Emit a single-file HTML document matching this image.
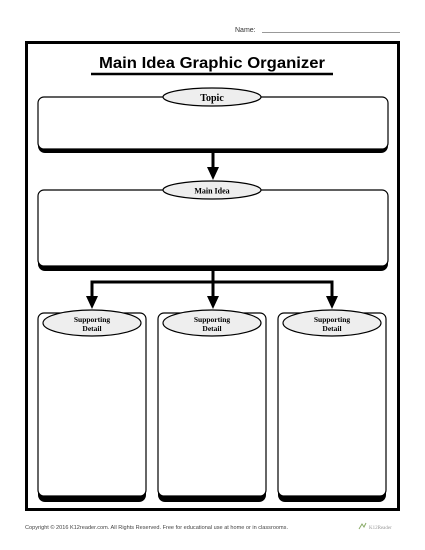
<!DOCTYPE html>
<html><head><style>
body{margin:0;width:425px;height:550px;background:#fff;overflow:hidden}
svg{display:block}
</style></head><body>
<svg width="425" height="550" viewBox="0 0 425 550" xmlns="http://www.w3.org/2000/svg">
<text x="235" y="32" font-family="Liberation Sans, sans-serif" font-size="7" fill="#333">Name:</text>
<line x1="262" y1="32.5" x2="400" y2="32.5" stroke="#777" stroke-width="0.8"/>
<rect x="26.5" y="42.5" width="372" height="467" fill="none" stroke="#000" stroke-width="3"/>
<text x="212" y="68" text-anchor="middle" font-family="Liberation Sans, sans-serif" font-weight="bold" font-size="15.5" fill="#000" textLength="226" lengthAdjust="spacingAndGlyphs">Main Idea Graphic Organizer</text>
<line x1="91" y1="74" x2="333" y2="74" stroke="#000" stroke-width="2.5"/>
<rect x="38" y="99" width="350" height="54" rx="7" fill="#000"/>
<rect x="38" y="97" width="350" height="52" rx="6" fill="#fff" stroke="#000" stroke-width="1.2"/>
<ellipse cx="212" cy="97" rx="49" ry="9" fill="#eee" stroke="#000" stroke-width="1.2"/>
<text x="212" y="101" text-anchor="middle" font-family="Liberation Serif, serif" font-size="10" font-weight="bold">Topic</text>
<line x1="213" y1="153" x2="213" y2="170" stroke="#000" stroke-width="3"/>
<polygon points="207,167 219,167 213,180" fill="#000"/>
<rect x="38" y="192" width="350" height="79" rx="7" fill="#000"/>
<rect x="38" y="190" width="350" height="76" rx="6" fill="#fff" stroke="#000" stroke-width="1.2"/>
<ellipse cx="212" cy="190" rx="49" ry="9" fill="#eee" stroke="#000" stroke-width="1.2"/>
<text x="212" y="193.5" text-anchor="middle" font-family="Liberation Serif, serif" font-size="8" font-weight="bold">Main Idea</text>
<line x1="213" y1="270" x2="213" y2="298" stroke="#000" stroke-width="3"/>
<polyline points="92,298 92,282 332,282 332,298" fill="none" stroke="#000" stroke-width="3"/>
<polygon points="86,296 98,296 92,309" fill="#000"/>
<polygon points="207,296 219,296 213,309" fill="#000"/>
<polygon points="326,296 338,296 332,309" fill="#000"/>
<g font-family="Liberation Serif, serif" font-size="7.5" font-weight="bold" text-anchor="middle">
<rect x="38" y="316" width="108" height="186" rx="7" fill="#000"/>
<rect x="38" y="313" width="108" height="183" rx="6" fill="#fff" stroke="#000" stroke-width="1.2"/>
<ellipse cx="92" cy="323" rx="49" ry="13" fill="#eee" stroke="#000" stroke-width="1.2"/>
<text x="92" y="322">Supporting</text><text x="92" y="331">Detail</text>
<rect x="158" y="316" width="108" height="186" rx="7" fill="#000"/>
<rect x="158" y="313" width="108" height="183" rx="6" fill="#fff" stroke="#000" stroke-width="1.2"/>
<ellipse cx="212" cy="323" rx="49" ry="13" fill="#eee" stroke="#000" stroke-width="1.2"/>
<text x="212" y="322">Supporting</text><text x="212" y="331">Detail</text>
<rect x="278" y="316" width="108" height="186" rx="7" fill="#000"/>
<rect x="278" y="313" width="108" height="183" rx="6" fill="#fff" stroke="#000" stroke-width="1.2"/>
<ellipse cx="332" cy="323" rx="49" ry="13" fill="#eee" stroke="#000" stroke-width="1.2"/>
<text x="332" y="322">Supporting</text><text x="332" y="331">Detail</text>
</g>
<text x="25" y="529" font-family="Liberation Sans, sans-serif" font-size="5" fill="#444" textLength="263" lengthAdjust="spacingAndGlyphs">Copyright © 2016  K12reader.com. All Rights Reserved.  Free for educational use at home or in classrooms.</text>
<text x="369" y="529" font-family="Liberation Serif, serif" font-size="5" fill="#999">K12Reader</text>
<path d="M359 529 l3-5 l2 3 l2-4" stroke="#8a6" stroke-width="1" fill="none"/>
</svg>
</body></html>
